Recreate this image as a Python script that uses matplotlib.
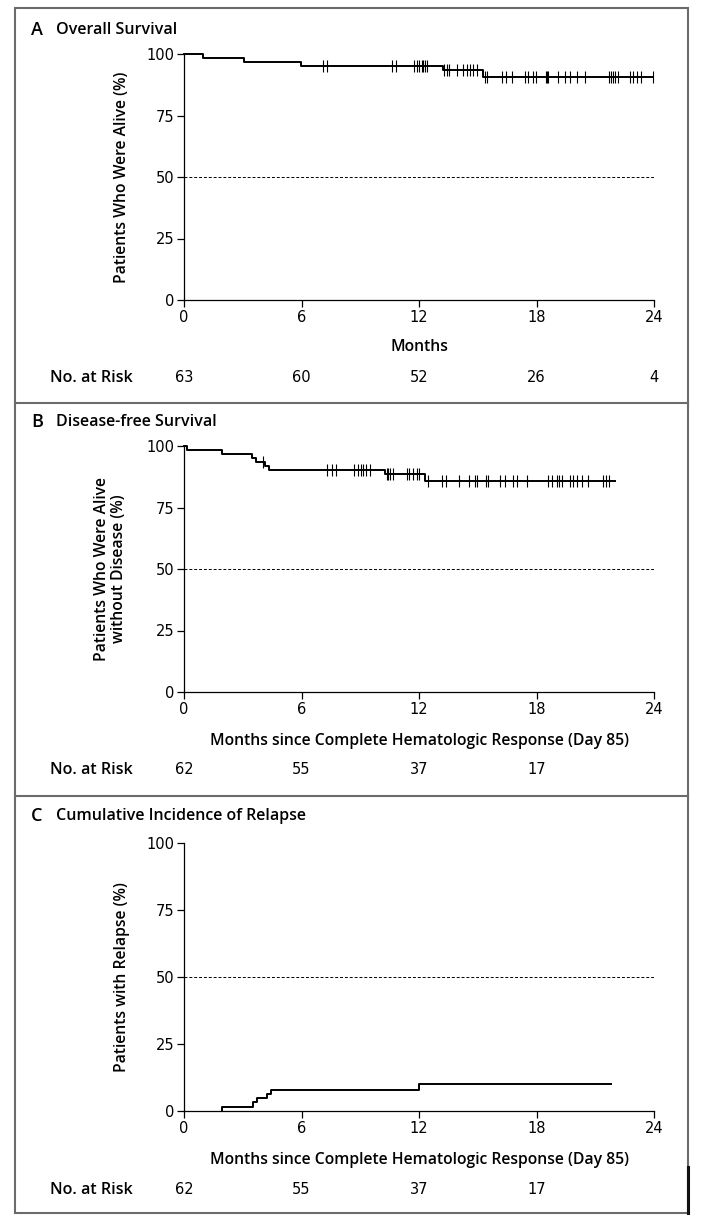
import numpy as np
import matplotlib
matplotlib.use('Agg')
import matplotlib.pyplot as plt
from matplotlib.patches import Rectangle
from matplotlib.lines import Line2D

W, H = 708, 1231

# Panel A: overall survival (step curve + censor ticks)
os_times = [0, 0.95, 3.08, 5.96, 13.24, 15.25, 23.94]
os_surv = [100, 98.4, 96.8, 95.2, 93.6, 90.8, 90.8]
os_censor = [7.08, 7.29, 10.61, 10.83, 11.76, 11.88, 12.02, 12.14, 12.22, 12.31, 12.43,
             13.30, 13.42, 13.55, 13.93, 14.27, 14.44, 14.61, 14.78, 14.95,
             15.37, 15.49, 16.22, 16.44, 16.73, 17.42, 17.59, 17.81, 17.98,
             18.49, 18.54, 18.59, 19.12, 19.46, 19.71, 20.05, 20.48,
             21.72, 21.81, 21.89, 22.01, 22.15, 22.78, 22.92, 23.12, 23.33, 23.94]
os_risk = [63, 60, 52, 26, 4]

# Panel B: disease-free survival
dfs_times = [0, 0.14, 1.92, 3.46, 3.68, 4.14, 4.36, 10.27, 12.31, 22.01]
dfs_surv = [100, 98.4, 96.8, 95.2, 93.5, 91.9, 90.2, 88.8, 85.7, 85.7]
dfs_censor = [4.02, 7.32, 7.54, 7.76, 8.70, 8.87, 9.04, 9.16, 9.30, 9.50,
              10.35, 10.43, 10.52, 10.66, 11.37, 11.51, 11.68, 11.88, 12.02,
              12.48, 13.16, 13.38, 14.06, 14.57, 14.86, 14.95, 15.42, 15.54,
              16.14, 16.39, 16.79, 16.99, 17.53, 18.60, 18.78, 19.03, 19.17, 19.29,
              19.71, 19.85, 20.05, 20.31, 20.65, 21.38, 21.55, 21.72]
dfs_risk = [62, 55, 37, 17]

# Panel C: cumulative incidence of relapse
rel_times = [1.92, 1.92, 3.51, 3.71, 4.25, 4.43, 12.02, 21.8]
rel_pct = [0, 1.6, 3.2, 4.8, 6.3, 7.9, 10.2, 10.2]
rel_risk = [62, 55, 37, 17]

risk_months = [0, 6, 12, 18, 24]
xticks = [0, 6, 12, 18, 24]
yticks = [0, 25, 50, 75, 100]

NARROW = ['Liberation Sans Narrow', 'DejaVu Sans']
BOLD = ['Open Sans', 'DejaVu Sans']
LAB = 11.3
FRAME = '#6b6b6b'


def px_axes(fig, left, top, right, bottom):
    return fig.add_axes([left / W, 1 - bottom / H, (right - left) / W, (bottom - top) / H])


def step_value(times, vals, t):
    i = np.searchsorted(times, t, side='right') - 1
    return np.array(vals)[np.clip(i, 0, len(vals) - 1)]


def draw_panel(ax, times, vals, censor, risk, ylabel, xlabel, xlabel_dy, risk_dy, ylabel_x):
    ax.step(times, vals, where='post', color='black', lw=1.4, clip_on=False, zorder=3)
    if censor:
        cy = step_value(times, vals, np.array(censor))
        ax.plot(censor, cy, ls='none', marker='|', ms=8, mew=0.8, color='black',
                clip_on=False, zorder=3)
    ax.plot([0, 24], [50, 50], ls=(0, (3, 2)), color='black', lw=0.7)
    ax.set_xlim(0, 24)
    ax.set_ylim(0, 100)
    ax.set_xticks(xticks)
    ax.set_yticks(yticks)
    for s in ['top', 'right']:
        ax.spines[s].set_visible(False)
    for s in ['left', 'bottom']:
        ax.spines[s].set_linewidth(0.9)
    ax.tick_params(direction='out', length=5, width=0.9, labelsize=10.5, pad=2)
    for lab in ax.get_xticklabels() + ax.get_yticklabels():
        lab.set_family(NARROW)
    ax.set_ylabel(ylabel, family=BOLD, weight='semibold', fontsize=LAB, linespacing=1.1)
    ax.yaxis.set_label_coords(ylabel_x, 0.5)
    ax.text(0.5, xlabel_dy, xlabel, transform=ax.transAxes, ha='center', va='center',
            family=BOLD, weight='semibold', fontsize=LAB)
    tr = ax.get_xaxis_transform()
    ax.text(-134 / 470 * 24, risk_dy, 'No. at Risk', transform=tr, ha='left', va='center',
            family=BOLD, weight='semibold', fontsize=11.6)
    for m, n in zip(risk_months, risk):
        ax.text(m, risk_dy, str(n), transform=tr, ha='center', va='center',
                family=NARROW, fontsize=10.5)


fig = plt.figure(figsize=(W / 100, H / 100), dpi=100)

# frame, panel separators and the dark edge mark at the bottom right
L, R, T, B = 15, 688, 8, 1213
fig.patches.append(Rectangle((L / W, 1 - B / H), (R - L) / W, (B - T) / H, transform=fig.transFigure,
                             fill=False, edgecolor=FRAME, lw=1.5))
for yy in [403, 796]:
    fig.lines.append(Line2D([L / W, R / W], [1 - yy / H, 1 - yy / H], transform=fig.transFigure,
                            color=FRAME, lw=1.5))
fig.lines.append(Line2D([R / W, R / W], [1 - 1167 / H, 1 - B / H], transform=fig.transFigure,
                        color='#111111', lw=2.2))

panels = [
    ('A', 'Overall Survival', 30),
    ('B', 'Disease-free Survival', 422),
    ('C', 'Cumulative Incidence of Relapse', 816),
]
for letter, title, ty in panels:
    fig.text(31 / W, 1 - ty / H, letter, family=BOLD, weight='semibold', fontsize=13, va='center')
    fig.text(56 / W, 1 - ty / H, title, family=BOLD, weight='semibold', fontsize=11.5, va='center')

axA = px_axes(fig, 184, 54, 654, 300)
draw_panel(axA, os_times, os_surv, os_censor, os_risk, 'Patients Who Were Alive (%)',
           'Months', -47 / 246, -78 / 246, -54 / 470)

axB = px_axes(fig, 184, 446, 654, 692)
draw_panel(axB, dfs_times, dfs_surv, dfs_censor, dfs_risk,
           'Patients Who Were Alive\nwithout Disease (%)',
           'Months since Complete Hematologic Response (Day 85)', -49 / 246, -78 / 246, -57 / 470)

axC = px_axes(fig, 184, 843, 654, 1111)
draw_panel(axC, rel_times, rel_pct, None, rel_risk, 'Patients with Relapse (%)',
           'Months since Complete Hematologic Response (Day 85)', -49 / 268, -79 / 268, -54 / 470)

fig.savefig('out.png', dpi=100)
